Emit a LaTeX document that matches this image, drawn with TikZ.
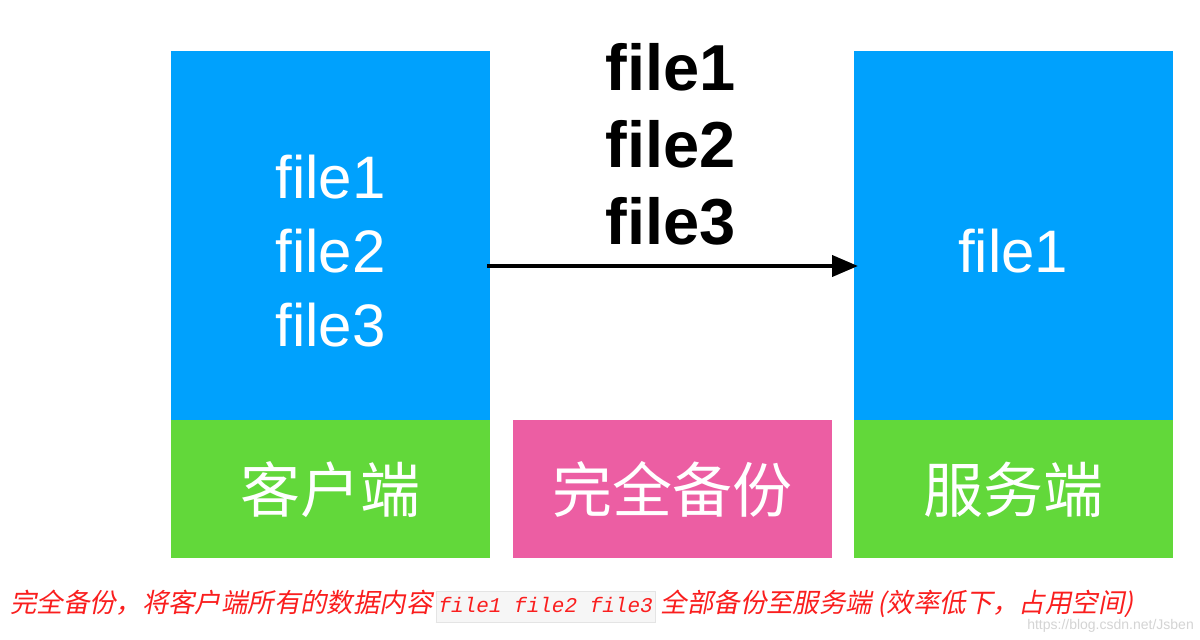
\documentclass[tikz,border=0pt]{standalone}
\usepackage{fontspec}
\setmainfont{Liberation Sans}
\newfontfamily\cnfont{Noto Sans CJK SC}
\newfontfamily\cnslant[FakeSlant=0.2]{Noto Sans CJK SC}
\newfontfamily\codefont{Liberation Mono}
\usetikzlibrary{positioning,arrows.meta}

\definecolor{boxblue}{RGB}{0,161,253}
\definecolor{boxgreen}{RGB}{98,216,58}
\definecolor{boxpink}{RGB}{236,94,163}
\definecolor{notered}{RGB}{250,30,30}
\definecolor{codebg}{RGB}{246,246,246}
\definecolor{codeline}{RGB}{228,228,228}
\definecolor{urlgray}{RGB}{212,212,212}

\newcommand\codebox[1]{\hspace{3pt}{\setlength\fboxsep{2pt}\setlength\fboxrule{1pt}%
  \fcolorbox{codeline}{codebg}{\codefont\itshape\fontsize{21}{26}\selectfont\strut #1}}\hspace{5pt}}

\begin{document}
\begin{tikzpicture}[x=1pt,y=-1pt,
    box/.style={inner sep=0pt, minimum width=319pt, text=white},
    files/.style={align=center, text=white, font=\fontsize{60}{74}\selectfont},
    label/.style={font=\cnfont\fontsize{60}{60}\selectfont}]
  \useasboundingbox[fill=white] (0,0) rectangle (1200,640);

  % client
  \node[box, fill=boxblue, minimum height=369pt] (clientfiles) at (330.5,235.5) {};
  \node[box, fill=boxgreen, minimum height=138pt, below=0pt of clientfiles, label] (client) {客户端};
  \node[files] (clientlist) at (330.5,251) {file1\\file2\\file3};

  % backup type
  \node[box, fill=boxpink, minimum height=138pt, right=23pt of client, label] (backup) {完全备份};

  % server
  \node[box, fill=boxgreen, minimum height=138pt, right=21pt of backup, label] (server) {服务端};
  \node[box, fill=boxblue, minimum height=369pt, above=0pt of server] (serverfiles) {};
  \node[files] (serverlist) at (serverfiles.center |- 0,251) {file1};

  % transfer
  \node[align=center, font=\bfseries\fontsize{65}{77}\selectfont] (sent) at (671,144) {file1\\file2\\file3};
  \coordinate (from) at (487,266);
  \coordinate (to) at (858,266);
  \draw[line width=4pt, -{Triangle[length=26pt,width=21pt]}] (from) -- (to);

  % note
  \node[anchor=base west, inner sep=0pt, text=notered, font=\cnslant\fontsize{26.4}{30}\selectfont] (note) at (10,612)
    {完全备份，将客户端所有的数据内容\codebox{file1 file2 file3}全部备份至服务端 (效率低下，占用空间)};
  \node[anchor=base east, inner sep=0pt, text=urlgray, font=\fontsize{14}{16}\selectfont] (url) at (1194,629) {https://blog.csdn.net/Jsben};
\end{tikzpicture}
\end{document}
